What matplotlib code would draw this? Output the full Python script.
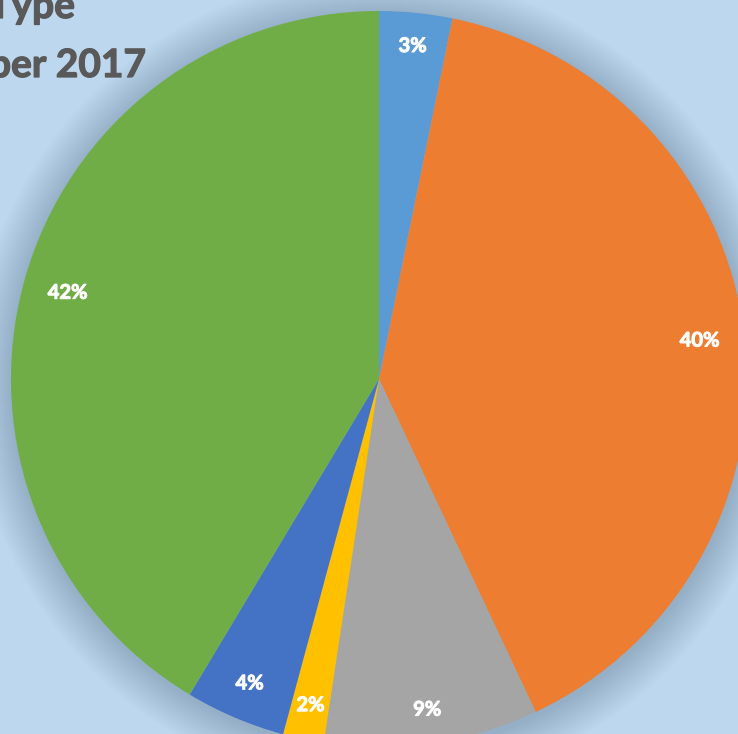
import matplotlib.pyplot as plt
import matplotlib.patheffects as pe
import numpy as np
from matplotlib.patches import Circle

# slice shares, clockwise from 12 o'clock
shares = [3.2, 39.8, 9.4, 1.8, 4.4, 41.4]
pct_labels = ["3%", "40%", "9%", "2%", "4%", "42%"]
slice_colors = ["#5B9BD5", "#ED7D31", "#A5A5A5", "#FFC000", "#4472C4", "#70AD47"]
title_lines = ["Type", "ber 2017"]

W, H = 738, 734
cx, cy, R = 379, H - 379, 368

fig = plt.figure(figsize=(W / 100, H / 100), dpi=100)
fig.patch.set_facecolor("#BDD7EE")
ax = fig.add_axes([0, 0, 1, 1])

# soft glow/shadow around the pie
for k in range(40, 0, -1):
    ax.add_patch(Circle((cx + 1, cy - 3), R + k, color="#50647a",
                        alpha=0.006, lw=0, zorder=0))

wedges, _ = ax.pie(shares, colors=slice_colors, startangle=90,
                   counterclock=False, center=(cx, cy), radius=R,
                   wedgeprops=dict(linewidth=0))

# heavier strokes so Lato looks closer to Calibri Bold
bold_white = [pe.withStroke(linewidth=0.7, foreground="white")]
bold_grey = [pe.withStroke(linewidth=0.9, foreground="#595959")]

for w, lab in zip(wedges, pct_labels):
    th = np.deg2rad((w.theta1 + w.theta2) / 2)
    dist = R * (0.913 - 0.036 * abs(np.cos(th)))
    ax.text(cx + dist * np.cos(th), cy + dist * np.sin(th), lab,
            ha="center", va="center", color="white", fontsize=14.5,
            fontweight="bold", family="Lato", zorder=3,
            path_effects=bold_white)

ax.text(75, H - 18, title_lines[0], ha="right", va="baseline", fontsize=28,
        fontweight="bold", color="#595959", family="Lato",
        path_effects=bold_grey)
ax.text(146, H - 77, title_lines[1], ha="right", va="baseline", fontsize=28,
        fontweight="bold", color="#595959", family="Lato",
        path_effects=bold_grey)

ax.set_xlim(0, W)
ax.set_ylim(0, H)
ax.set_aspect("equal")
ax.axis("off")

fig.savefig("out.png", dpi=100, facecolor=fig.get_facecolor())
